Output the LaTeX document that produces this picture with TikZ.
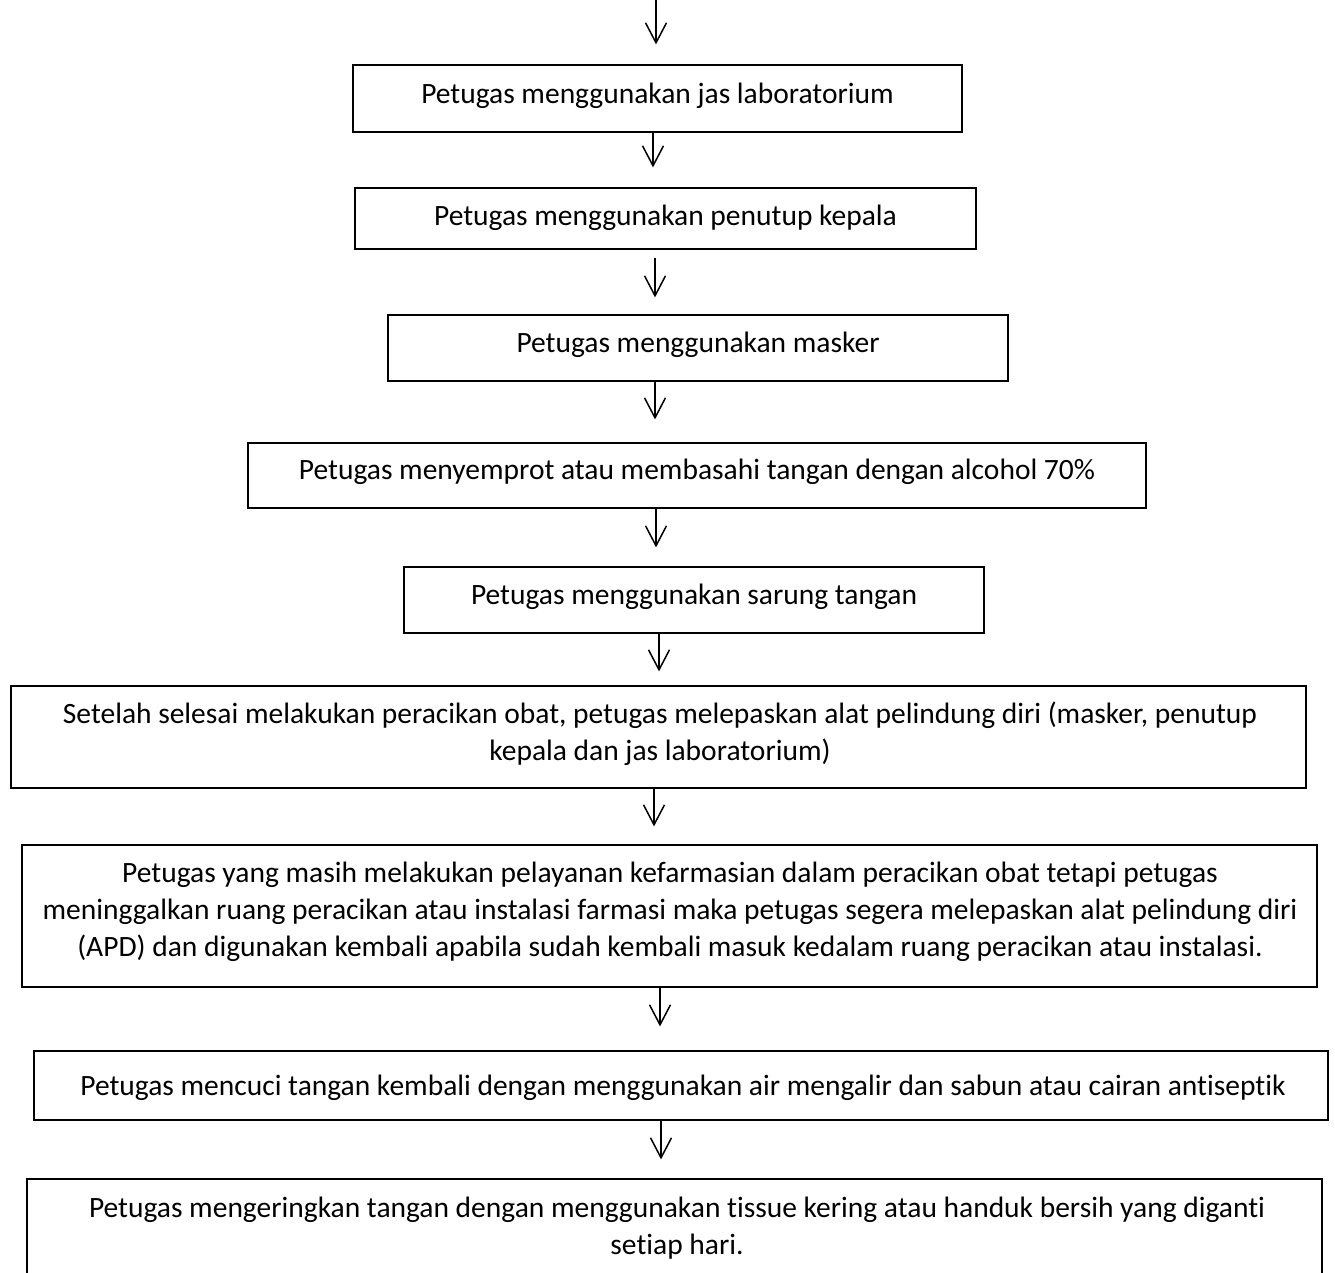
\documentclass[tikz,border=0pt]{standalone}
\usepackage{fontspec}
\setmainfont{Carlito}[Ligatures={CommonOff,ContextualOff}]
\usetikzlibrary{arrows.meta}
\begin{document}
\begin{tikzpicture}[x=1pt,y=-1pt,
  stepbox/.style={draw=black, line width=1.2pt, inner sep=0pt},
  steptext/.style={inner sep=0pt, align=center, font=\fontsize{29.5}{37}\selectfont},
  flow/.style={line width=1.5pt, -{Straight Barb[length=20pt,width=21pt]}}
]
\useasboundingbox (0,0) rectangle (1335,1272);
\clip (0,0) rectangle (1335,1272);

% step boxes
\node[stepbox, minimum width=609pt,  minimum height=67pt]  (b1) at (657.5,98.5)  {};
\node[stepbox, minimum width=621pt,  minimum height=61pt]  (b2) at (665.5,218.5) {};
\node[stepbox, minimum width=620pt,  minimum height=66pt]  (b3) at (698,348)     {};
\node[stepbox, minimum width=898pt,  minimum height=65pt]  (b4) at (697,475.5)   {};
\node[stepbox, minimum width=580pt,  minimum height=66pt]  (b5) at (694,600)     {};
\node[stepbox, minimum width=1295pt, minimum height=102pt] (b6) at (658.5,737)   {};
\node[stepbox, minimum width=1295pt, minimum height=142pt] (b7) at (669.5,916)   {};
\node[stepbox, minimum width=1294pt, minimum height=69pt]  (b8) at (681,1085.5)  {};
\node[stepbox, minimum width=1295pt, minimum height=141pt] (b9) at (674.5,1249.5){};

% step texts
\node[steptext] (t1) at (657.5,96)  {\strut Petugas menggunakan jas laboratorium\strut};
\node[steptext] (t2) at (665.5,218) {\strut Petugas menggunakan penutup kepala\strut};
\node[steptext] (t3) at (698,345)   {\strut Petugas menggunakan masker\strut};
\node[steptext] (t4) at (697,472)   {\strut Petugas menyemprot atau membasahi tangan dengan alcohol 70\%\strut};
\node[steptext] (t5) at (694,597)   {\strut Petugas menggunakan sarung tangan\strut};
\node[steptext] (t6) at (660,735)   {\strut Setelah selesai melakukan peracikan obat, petugas melepaskan alat pelindung diri (masker, penutup\\kepala dan jas laboratorium)\strut};
\node[steptext] (t7) at (670,912.5) {\strut Petugas yang masih melakukan pelayanan kefarmasian dalam peracikan obat tetapi petugas\\meninggalkan ruang peracikan atau instalasi farmasi maka petugas segera melepaskan alat pelindung diri\\(APD) dan digunakan kembali apabila sudah kembali masuk kedalam ruang peracikan atau instalasi.\strut};
\node[steptext] (t8) at (683,1088)  {\strut Petugas mencuci tangan kembali dengan menggunakan air mengalir dan sabun atau cairan antiseptik\strut};
\node[steptext] (t9) at (677,1228.5){\strut Petugas mengeringkan tangan dengan menggunakan tissue kering atau handuk bersih yang diganti\\setiap hari.\strut};

% connectors
\coordinate (start) at (656,0);
\draw[flow, shorten >=20pt] (start) -- (b1.north -| start);
\draw[flow, shorten >=20pt] (b1.south -| 653,0) -- (b2.north -| 653,0);
\draw[flow, shorten <=8pt, shorten >=17pt] (b2.south -| 655,0) -- (b3.north -| 655,0);
\draw[flow, shorten >=23pt] (b3.south -| 655,0) -- (b4.north -| 655,0);
\draw[flow, shorten >=19pt] (b4.south -| 656,0) -- (b5.north -| 656,0);
\draw[flow, shorten >=14pt] (b5.south -| 659,0) -- (b6.north -| 659,0);
\draw[flow, shorten >=18pt] (b6.south -| 654,0) -- (b7.north -| 654,0);
\draw[flow, shorten >=24pt] (b7.south -| 660,0) -- (b8.north -| 660,0);
\draw[flow, shorten >=19pt] (b8.south -| 661,0) -- (b9.north -| 661,0);
\end{tikzpicture}
\end{document}
